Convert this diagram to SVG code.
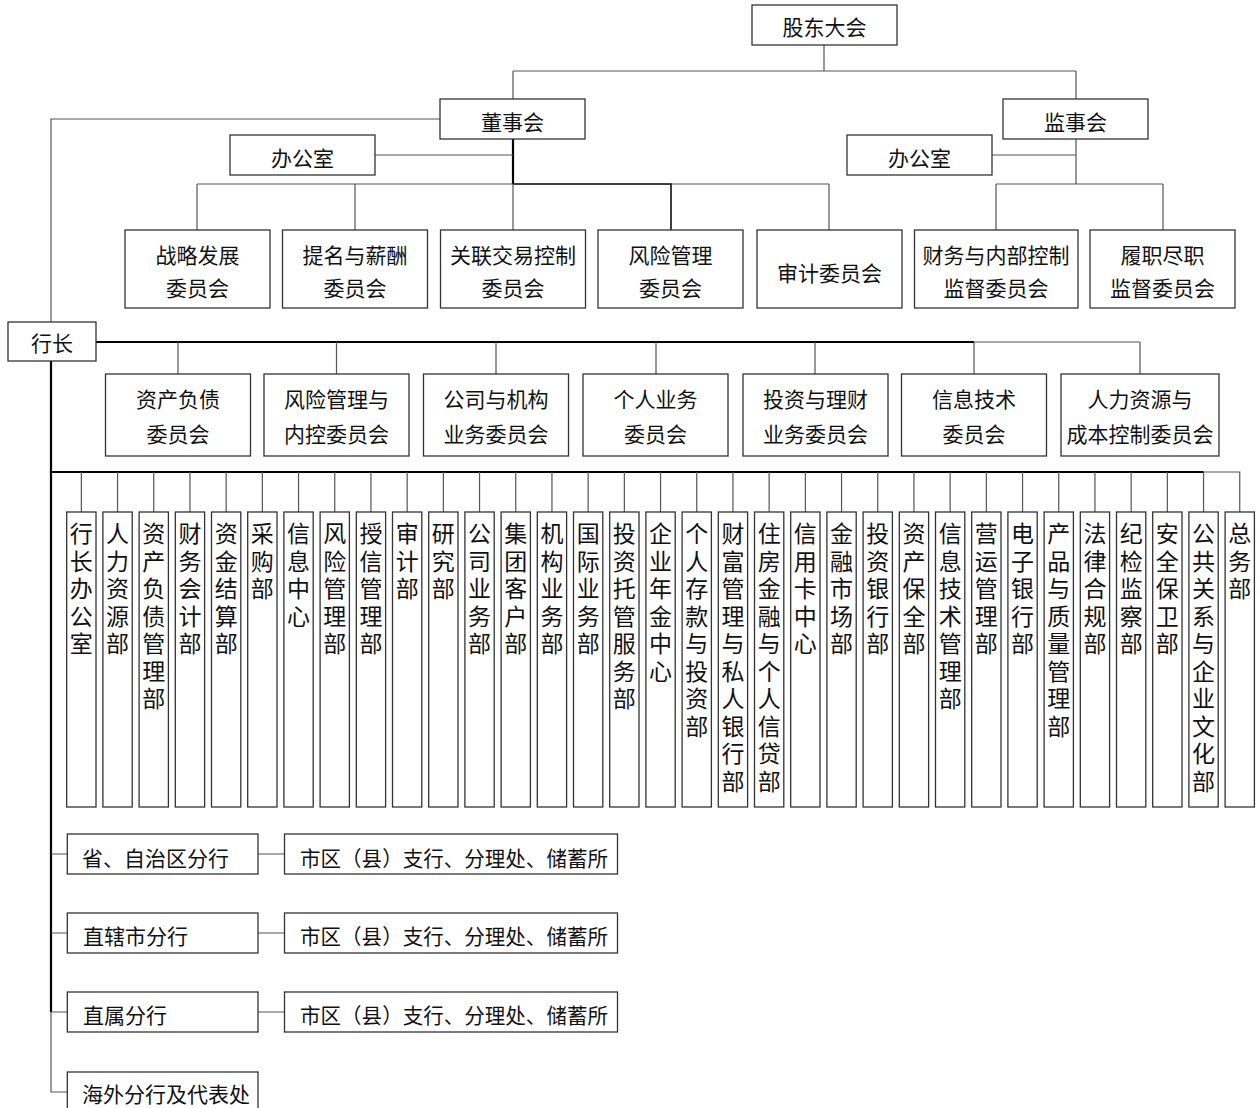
<svg xmlns="http://www.w3.org/2000/svg" width="1260" height="1108" viewBox="0 0 1260 1108">
<style>
.box{fill:#fff;stroke:#333;stroke-width:1.3}
.t{font-family:"Noto Sans CJK SC","Noto Sans CJK JP",sans-serif;font-size:21px;text-anchor:middle;fill:#111}
.l{text-anchor:start}
.v{font-family:"Noto Sans CJK SC","Noto Sans CJK JP",sans-serif;font-size:23px;fill:#111;writing-mode:vertical-rl;letter-spacing:4.5px;text-anchor:start}
.c{stroke:#555;stroke-width:1.2;fill:none}
.m{stroke:#000;stroke-width:1.5;fill:none}
.k{stroke:#000;stroke-width:2.2;fill:none}
</style>
<rect width="1260" height="1108" fill="#fff"/>
<g id="connectors">
<path class="c" d="M824 45V71M513 71H1076M513 71V99M1076 71V99"/>
<path class="c" d="M440 119H51V322"/>
<path class="k" d="M513 139V184"/>
<path class="m" d="M513 184H671V230"/>
<path class="c" d="M375 155H513M197 184H513M671 184H829M197 184V230M355 184V230M513 184V230M829 184V230"/>
<path class="c" d="M1076 139V184M992 155H1076M996 184H1163M996 184V230M1163 184V230"/>
<path class="k" d="M96 342H974"/>
<path class="c" d="M974 342H1140M178 342V374M336.5 342V374M496 342V374M656 342V374M815 342V374M974 342V374M1140 342V374"/>
<path class="k" d="M51 361V1012M51 472H1203.5"/>
<path class="c" d="M51 1012V1092H67M1203.5 472H1239.75V512"/>
<path class="c" d="M81.35 472V512M117.55 472V512M153.75 472V512M189.95 472V512M226.15 472V512M262.35 472V512M298.55 472V512M334.75 472V512M370.95 472V512M407.15 472V512M443.35 472V512M479.55 472V512M515.75 472V512M551.95 472V512M588.15 472V512M624.35 472V512M660.55 472V512M696.75 472V512M732.95 472V512M769.15 472V512M805.35 472V512M841.55 472V512M877.75 472V512M913.95 472V512M950.15 472V512M986.35 472V512M1022.55 472V512M1058.75 472V512M1094.95 472V512M1131.15 472V512M1167.35 472V512M1203.55 472V512"/>
<path class="c" d="M51 854H67M258 854H284.5M51 933H67M258 933H284.5M51 1012H67M258 1012H284.5"/>
</g>
<g id="gudong"><rect class="box" x="752" y="5" width="145" height="40"/><text class="t" x="824.5" y="35">股东大会</text></g>
<g id="dongshihui"><rect class="box" x="440" y="99" width="145" height="40"/><text class="t" x="512.5" y="129.5">董事会</text></g>
<g id="jianshihui"><rect class="box" x="1003" y="99" width="145" height="40"/><text class="t" x="1075.5" y="129.5">监事会</text></g>
<g id="bangongshi1"><rect class="box" x="230" y="135" width="145" height="40"/><text class="t" x="302.5" y="165.5">办公室</text></g>
<g id="bangongshi2"><rect class="box" x="847" y="135" width="145" height="40"/><text class="t" x="919.5" y="165.5">办公室</text></g>
<g id="bc1"><rect class="box" x="125" y="230" width="145" height="78"/><text class="t" x="197.5" y="263">战略发展</text><text class="t" x="197.5" y="295.5">委员会</text></g>
<g id="bc2"><rect class="box" x="282.5" y="230" width="145" height="78"/><text class="t" x="355" y="263">提名与薪酬</text><text class="t" x="355" y="295.5">委员会</text></g>
<g id="bc3"><rect class="box" x="440.5" y="230" width="145" height="78"/><text class="t" x="513" y="263">关联交易控制</text><text class="t" x="513" y="295.5">委员会</text></g>
<g id="bc4"><rect class="box" x="598" y="230" width="145" height="78"/><text class="t" x="670.5" y="263">风险管理</text><text class="t" x="670.5" y="295.5">委员会</text></g>
<g id="bc5"><rect class="box" x="757" y="230" width="145" height="78"/><text class="t" x="829.5" y="280.5">审计委员会</text></g>
<g id="sc1"><rect class="box" x="914.5" y="230" width="163.5" height="78"/><text class="t" x="996" y="263">财务与内部控制</text><text class="t" x="996" y="295.5">监督委员会</text></g>
<g id="sc2"><rect class="box" x="1090" y="230" width="145" height="78"/><text class="t" x="1162.5" y="263">履职尽职</text><text class="t" x="1162.5" y="295.5">监督委员会</text></g>
<g id="hangzhang"><rect class="box" x="8" y="322" width="88" height="39"/><text class="t" x="52" y="351">行长</text></g>
<g id="ec1"><rect class="box" x="105.5" y="374" width="145" height="82"/><text class="t" x="178" y="406.5">资产负债</text><text class="t" x="178" y="441.5">委员会</text></g>
<g id="ec2"><rect class="box" x="264" y="374" width="145" height="82"/><text class="t" x="336.5" y="406.5">风险管理与</text><text class="t" x="336.5" y="441.5">内控委员会</text></g>
<g id="ec3"><rect class="box" x="423.5" y="374" width="145" height="82"/><text class="t" x="496" y="406.5">公司与机构</text><text class="t" x="496" y="441.5">业务委员会</text></g>
<g id="ec4"><rect class="box" x="583" y="374" width="145" height="82"/><text class="t" x="655.5" y="406.5">个人业务</text><text class="t" x="655.5" y="441.5">委员会</text></g>
<g id="ec5"><rect class="box" x="743" y="374" width="145" height="82"/><text class="t" x="815.5" y="406.5">投资与理财</text><text class="t" x="815.5" y="441.5">业务委员会</text></g>
<g id="ec6"><rect class="box" x="901.5" y="374" width="145" height="82"/><text class="t" x="974" y="406.5">信息技术</text><text class="t" x="974" y="441.5">委员会</text></g>
<g id="ec7"><rect class="box" x="1061" y="374" width="158" height="82"/><text class="t" x="1140" y="406.5">人力资源与</text><text class="t" x="1140" y="441.5">成本控制委员会</text></g>
<g id="d1"><rect class="box" x="66.7" y="512" width="29.3" height="295"/><text class="v" x="81.35" y="522">行长办公室</text></g>
<g id="d2"><rect class="box" x="102.9" y="512" width="29.3" height="295"/><text class="v" x="117.55" y="522">人力资源部</text></g>
<g id="d3"><rect class="box" x="139.1" y="512" width="29.3" height="295"/><text class="v" x="153.75" y="522">资产负债管理部</text></g>
<g id="d4"><rect class="box" x="175.3" y="512" width="29.3" height="295"/><text class="v" x="189.95" y="522">财务会计部</text></g>
<g id="d5"><rect class="box" x="211.5" y="512" width="29.3" height="295"/><text class="v" x="226.15" y="522">资金结算部</text></g>
<g id="d6"><rect class="box" x="247.7" y="512" width="29.3" height="295"/><text class="v" x="262.35" y="522">采购部</text></g>
<g id="d7"><rect class="box" x="283.9" y="512" width="29.3" height="295"/><text class="v" x="298.55" y="522">信息中心</text></g>
<g id="d8"><rect class="box" x="320.1" y="512" width="29.3" height="295"/><text class="v" x="334.75" y="522">风险管理部</text></g>
<g id="d9"><rect class="box" x="356.3" y="512" width="29.3" height="295"/><text class="v" x="370.95" y="522">授信管理部</text></g>
<g id="d10"><rect class="box" x="392.5" y="512" width="29.3" height="295"/><text class="v" x="407.15" y="522">审计部</text></g>
<g id="d11"><rect class="box" x="428.7" y="512" width="29.3" height="295"/><text class="v" x="443.35" y="522">研究部</text></g>
<g id="d12"><rect class="box" x="464.9" y="512" width="29.3" height="295"/><text class="v" x="479.55" y="522">公司业务部</text></g>
<g id="d13"><rect class="box" x="501.1" y="512" width="29.3" height="295"/><text class="v" x="515.75" y="522">集团客户部</text></g>
<g id="d14"><rect class="box" x="537.3" y="512" width="29.3" height="295"/><text class="v" x="551.95" y="522">机构业务部</text></g>
<g id="d15"><rect class="box" x="573.5" y="512" width="29.3" height="295"/><text class="v" x="588.15" y="522">国际业务部</text></g>
<g id="d16"><rect class="box" x="609.7" y="512" width="29.3" height="295"/><text class="v" x="624.35" y="522">投资托管服务部</text></g>
<g id="d17"><rect class="box" x="645.9" y="512" width="29.3" height="295"/><text class="v" x="660.55" y="522">企业年金中心</text></g>
<g id="d18"><rect class="box" x="682.1" y="512" width="29.3" height="295"/><text class="v" x="696.75" y="522">个人存款与投资部</text></g>
<g id="d19"><rect class="box" x="718.3" y="512" width="29.3" height="295"/><text class="v" x="732.95" y="522">财富管理与私人银行部</text></g>
<g id="d20"><rect class="box" x="754.5" y="512" width="29.3" height="295"/><text class="v" x="769.15" y="522">住房金融与个人信贷部</text></g>
<g id="d21"><rect class="box" x="790.7" y="512" width="29.3" height="295"/><text class="v" x="805.35" y="522">信用卡中心</text></g>
<g id="d22"><rect class="box" x="826.9" y="512" width="29.3" height="295"/><text class="v" x="841.55" y="522">金融市场部</text></g>
<g id="d23"><rect class="box" x="863.1" y="512" width="29.3" height="295"/><text class="v" x="877.75" y="522">投资银行部</text></g>
<g id="d24"><rect class="box" x="899.3" y="512" width="29.3" height="295"/><text class="v" x="913.95" y="522">资产保全部</text></g>
<g id="d25"><rect class="box" x="935.5" y="512" width="29.3" height="295"/><text class="v" x="950.15" y="522">信息技术管理部</text></g>
<g id="d26"><rect class="box" x="971.7" y="512" width="29.3" height="295"/><text class="v" x="986.35" y="522">营运管理部</text></g>
<g id="d27"><rect class="box" x="1007.9" y="512" width="29.3" height="295"/><text class="v" x="1022.55" y="522">电子银行部</text></g>
<g id="d28"><rect class="box" x="1044.1" y="512" width="29.3" height="295"/><text class="v" x="1058.75" y="522">产品与质量管理部</text></g>
<g id="d29"><rect class="box" x="1080.3" y="512" width="29.3" height="295"/><text class="v" x="1094.95" y="522">法律合规部</text></g>
<g id="d30"><rect class="box" x="1116.5" y="512" width="29.3" height="295"/><text class="v" x="1131.15" y="522">纪检监察部</text></g>
<g id="d31"><rect class="box" x="1152.7" y="512" width="29.3" height="295"/><text class="v" x="1167.35" y="522">安全保卫部</text></g>
<g id="d32"><rect class="box" x="1188.9" y="512" width="29.3" height="295"/><text class="v" x="1203.55" y="522">公共关系与企业文化部</text></g>
<g id="d33"><rect class="box" x="1225.1" y="512" width="29.3" height="295"/><text class="v" x="1239.75" y="522">总务部</text></g>
<g id="br1"><rect class="box" x="67.3" y="834" width="190.7" height="40"/><text class="t l" x="82" y="865.5">省、自治区分行</text></g>
<g id="br1s"><rect class="box" x="284.5" y="834" width="333" height="40"/><text class="t l" x="300" y="865.5" textLength="308" lengthAdjust="spacingAndGlyphs">市区（县）支行、分理处、储蓄所</text></g>
<g id="br2"><rect class="box" x="67.3" y="913" width="190.7" height="40"/><text class="t l" x="83" y="944">直辖市分行</text></g>
<g id="br2s"><rect class="box" x="284.5" y="913" width="333" height="40"/><text class="t l" x="300" y="944" textLength="308" lengthAdjust="spacingAndGlyphs">市区（县）支行、分理处、储蓄所</text></g>
<g id="br3"><rect class="box" x="67.3" y="992" width="190.7" height="40"/><text class="t l" x="83" y="1023">直属分行</text></g>
<g id="br3s"><rect class="box" x="284.5" y="992" width="333" height="40"/><text class="t l" x="300" y="1023" textLength="308" lengthAdjust="spacingAndGlyphs">市区（县）支行、分理处、储蓄所</text></g>
<g id="br4"><rect class="box" x="67.3" y="1072" width="190.7" height="40"/><text class="t l" x="82" y="1102">海外分行及代表处</text></g>
</svg>
